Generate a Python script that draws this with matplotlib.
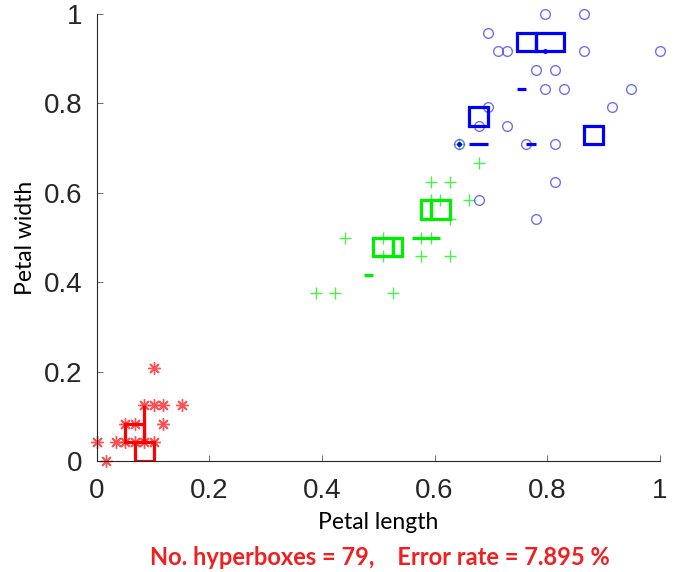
import matplotlib
matplotlib.use("Agg")
import matplotlib.pyplot as plt
from matplotlib.patches import Rectangle

# normalised iris petal data (length, width) per class
x1 = [0.1017, 0.0847, 0.1017, 0.1186, 0.1525, 0.0508, 0.0678, 0.1186,
      0.0, 0.0339, 0.0508, 0.0678, 0.0847, 0.1017, 0.0169]
y1 = [0.2083, 0.125, 0.125, 0.125, 0.125, 0.0833, 0.0833, 0.0833,
      0.0417, 0.0417, 0.0417, 0.0417, 0.0417, 0.0417, 0.0]

x2 = [0.678, 0.5932, 0.6271, 0.5932, 0.6102, 0.661, 0.6271, 0.4407, 0.5085,
      0.5763, 0.5932, 0.5085, 0.5763, 0.6271, 0.3898, 0.4237, 0.5254, 0.644]
y2 = [0.6667, 0.625, 0.625, 0.5833, 0.5833, 0.5833, 0.5417, 0.5, 0.5,
      0.5, 0.5, 0.4583, 0.4583, 0.4583, 0.375, 0.375, 0.375, 0.7083]

x3 = [0.7966, 0.8644, 0.6949, 0.7119, 0.7288, 0.8644, 1.0, 0.7797, 0.8136,
      0.7966, 0.8305, 0.9492, 0.6949, 0.9153, 0.678, 0.7288, 0.644, 0.7627,
      0.8136, 0.8136, 0.678, 0.7797]
y3 = [1.0, 1.0, 0.9583, 0.9167, 0.9167, 0.9167, 0.9167, 0.875, 0.875,
      0.8333, 0.8333, 0.8333, 0.7917, 0.7917, 0.75, 0.75, 0.7083, 0.7083,
      0.7083, 0.625, 0.5833, 0.5417]

# hyperboxes: (xmin, xmax, ymin, ymax)
boxes1 = [(0.0508, 0.0847, 0.0417, 0.0833), (0.0678, 0.1017, 0.0, 0.0417),
          (0.0847, 0.0847, 0.0417, 0.125)]
boxes2 = [(0.4915, 0.5254, 0.4583, 0.5), (0.5254, 0.5424, 0.4583, 0.5),
          (0.5763, 0.5932, 0.5417, 0.5833), (0.5932, 0.6271, 0.5417, 0.5833),
          (0.4746, 0.4915, 0.4167, 0.4167), (0.5593, 0.6102, 0.5, 0.5)]
boxes3 = [(0.7458, 0.7797, 0.9167, 0.9583), (0.7797, 0.8305, 0.9167, 0.9583),
          (0.661, 0.6949, 0.75, 0.7917), (0.8644, 0.8983, 0.7083, 0.75),
          (0.7458, 0.7627, 0.8333, 0.8333), (0.661, 0.6949, 0.7083, 0.7083),
          (0.7627, 0.7797, 0.7083, 0.7083),
          (0.7966, 0.7966, 0.9167, 0.9167), (0.644, 0.644, 0.7083, 0.7083)]

ticks = [0, 0.2, 0.4, 0.6, 0.8, 1]
tick_labels = ["0", "0.2", "0.4", "0.6", "0.8", "1"]

fig = plt.figure(figsize=(6.78, 5.72), dpi=100)
ax = fig.add_axes([96.5 / 678, 111 / 572, 563.5 / 678, 447 / 572])

# asterisk marker like matlab '*'
ax.plot(x1, y1, ls="none", marker=(8, 2, 0), ms=9, mew=1.0,
        mec=(1, 0.2, 0.2, 0.85), clip_on=False)
ax.plot(x2, y2, ls="none", marker="+", ms=9, mew=1.0,
        mec=(0.2, 0.95, 0.2, 0.9), clip_on=False)
ax.plot(x3, y3, ls="none", marker="o", ms=7, mew=1.0, mfc="none",
        mec=(0.3, 0.3, 0.95, 0.8), clip_on=False)

for boxes, col in [(boxes1, "#ff0000"), (boxes2, "#00ee00"), (boxes3, "#0000ff")]:
    for (a, b, c, d) in boxes:
        if a == b and c == d:
            ax.plot([a], [c], marker="o", ms=2.5, color=col, zorder=4)
        else:
            ax.add_patch(Rectangle((a, c), b - a, d - c, fill=False,
                                   edgecolor=col, lw=2.3, zorder=4,
                                   joinstyle="miter", capstyle="butt"))

ax.set_xlim(0, 1)
ax.set_ylim(0, 1)
ax.set_xticks(ticks)
ax.set_xticklabels(tick_labels)
ax.set_yticks(ticks)
ax.set_yticklabels(tick_labels)
for s in ["top", "right"]:
    ax.spines[s].set_visible(False)
for s in ["left", "bottom"]:
    ax.spines[s].set_color("#262626")
    ax.spines[s].set_linewidth(0.8)
ax.tick_params(direction="in", length=4, width=0.6, color="#555555",
               labelsize=20, labelcolor="#262626")
ax.tick_params(axis="y", pad=10)
ax.tick_params(axis="x", pad=12)
for lab in ax.get_xticklabels() + ax.get_yticklabels():
    lab.set_family("Liberation Sans")

ax.set_xlabel("Petal length", fontsize=16.5, family="Lato", labelpad=6)
ax.set_ylabel("Petal width", fontsize=16.5, family="Lato", labelpad=6)

fig.text(0.561, 0.026, "No. hyperboxes = 79,    Error rate = 7.895 %",
         ha="center", va="center", color="#f02020", fontsize=17,
         fontweight="bold", family="Lato")

fig.savefig("out.png", dpi=100)
